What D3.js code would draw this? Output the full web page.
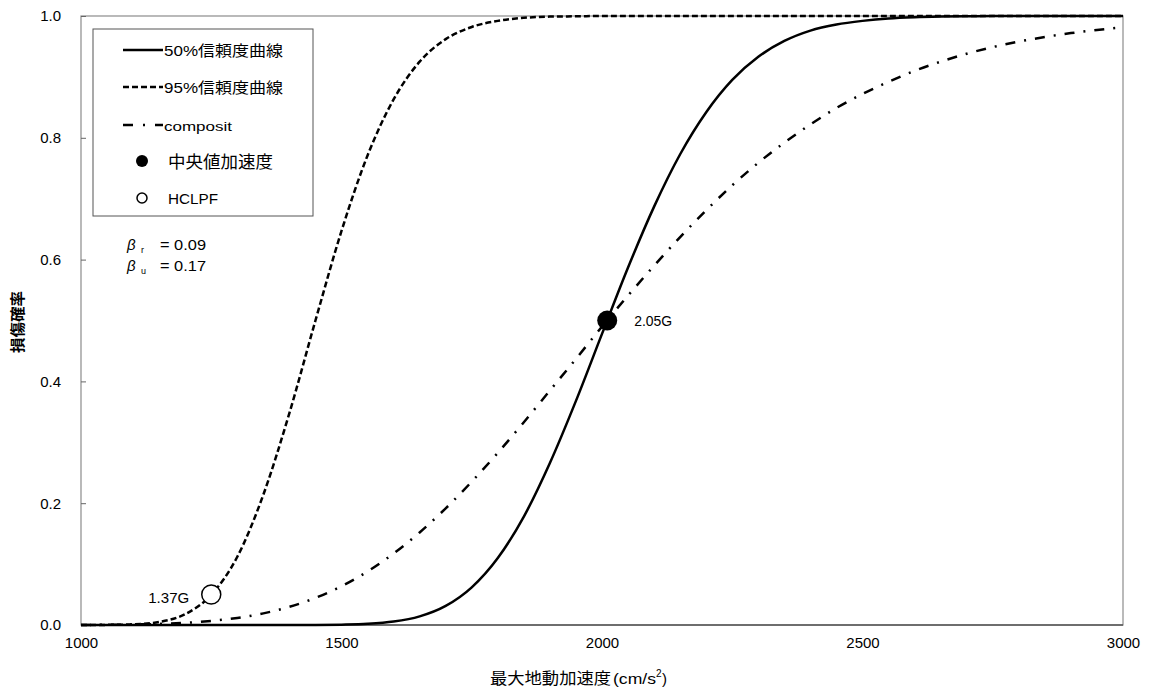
<!DOCTYPE html>
<html>
<head>
<meta charset="utf-8">
<script src="https://cdn.jsdelivr.net/npm/d3@7"></script>
<style>
  body { margin: 0; background: #fff; }
  text { font-family: "Liberation Sans", "Noto Sans CJK JP", sans-serif; fill: #000; }
</style>
</head>
<body>
<div class="chart-div"></div>
<script>
// acceleration grid (cm/s2) and read-off probabilities
const accel = [1000,1050,1100,1150,1200,1250,1300,1350,1400,1450,1500,1550,1600,1650,1700,1750,1800,1850,1900,1950,
               2000,2050,2100,2150,2200,2250,2300,2350,2400,2450,2500,2550,2600,2650,2700,2750,2800,2850,2900,2950,3000];
const p50 = [0,0,0,0,0,0,0,0,0.00003,0.0001,0.0006,0.0019,0.0056,0.0142,0.0314,0.0619,0.110,0.178,0.266,0.368,
             0.478,0.587,0.687,0.773,0.842,0.895,0.933,0.959,0.976,0.986,0.992,0.996,0.998,0.999,0.9995,1,1,1,1,1,1];
const p95 = [0,0.0002,0.0011,0.005,0.0178,0.0496,0.112,0.214,0.348,0.5,0.647,0.771,0.863,0.925,0.962,0.982,0.992,0.997,0.999,0.9995,
             1,1,1,1,1,1,1,1,1,1,1,1,1,1,1,1,1,1,1,1,1];
const pComp = [0.00014,0.00036,0.00085,0.0018,0.0036,0.0067,0.0116,0.0191,0.0298,0.0445,0.0637,0.0879,0.1174,0.152,0.1915,0.2354,0.2826,0.333,0.385,0.437,
               0.490,0.541,0.590,0.637,0.681,0.722,0.759,0.792,0.822,0.849,0.872,0.892,0.910,0.925,0.938,0.949,0.958,0.9655,0.9719,0.9771,0.9815];

const medianPt = {a: 2010, p: 0.5, label: "2.05G"};
const hclpfPt = {a: 1250, p: 0.05, label: "1.37G"};

const xTicks = [1000, 1500, 2000, 2500, 3000];
const yTicks = [0, 0.2, 0.4, 0.6, 0.8, 1.0];

const legendItems = ["50%信頼度曲線", "95%信頼度曲線", "composit", "中央値加速度", "HCLPF"];

var width = 1151, height = 691;

const svg = d3.select(".chart-div").append("svg")
    .attr("width", width)
    .attr("height", height);

svg.append("rect").attr("width", width).attr("height", height).attr("fill", "#fff");

const x = d3.scaleLinear().domain([1000, 3000]).range([81, 1123]);
const y = d3.scaleLinear().domain([0, 1]).range([625, 16]);

// frame
svg.append("rect")
    .attr("x", x(1000)).attr("y", y(1))
    .attr("width", x(3000) - x(1000)).attr("height", y(0) - y(1))
    .attr("fill", "none").attr("stroke", "#8c8c8c").attr("stroke-width", 1.2);
svg.append("line")
    .attr("x1", x(1000)).attr("x2", x(3000)).attr("y1", y(0)).attr("y2", y(0))
    .attr("stroke", "#555").attr("stroke-width", 1.5);

// y axis ticks (inside) + labels
const yAxis = d3.axisLeft(y).tickValues(yTicks).tickSize(-5).tickPadding(20)
    .tickFormat(d3.format(".1f"));
const gy = svg.append("g").attr("transform", `translate(${x(1000)},0)`).call(yAxis);
gy.select(".domain").remove();
gy.selectAll(".tick line").attr("stroke", "#666");
gy.selectAll(".tick text").style("font-size", "15px").style("font-family", "Liberation Sans, sans-serif");

const xAxis = d3.axisBottom(x).tickValues(xTicks).tickSize(0).tickPadding(12)
    .tickFormat(d3.format("d"));
const gx = svg.append("g").attr("transform", `translate(0,${y(0)})`).call(xAxis);
gx.select(".domain").remove();
gx.selectAll(".tick text").style("font-size", "15px").style("font-family", "Liberation Sans, sans-serif");

// axis titles
svg.append("text")
    .attr("x", 490).attr("y", 684)
    .attr("textLength", 121).attr("lengthAdjust", "spacingAndGlyphs")
    .style("font-size", "16px").style("font-family", "Noto Sans CJK JP, sans-serif")
    .text("最大地動加速度");
svg.append("text")
    .attr("x", 613).attr("y", 684)
    .attr("textLength", 43).attr("lengthAdjust", "spacingAndGlyphs")
    .style("font-size", "15px")
    .text("(cm/s");
svg.append("text")
    .attr("x", 656).attr("y", 677)
    .style("font-size", "10px")
    .text("2");
svg.append("text")
    .attr("x", 662).attr("y", 684)
    .style("font-size", "15px")
    .text(")");

svg.append("text")
    .attr("transform", "translate(23,322) rotate(-90)")
    .attr("text-anchor", "middle")
    .attr("textLength", 62).attr("lengthAdjust", "spacingAndGlyphs")
    .style("font-size", "15px").style("font-weight", "bold")
    .style("font-family", "Noto Sans CJK JP, sans-serif")
    .text("損傷確率");

// curves
const line = d3.line()
    .x((d, i) => x(accel[i]))
    .y(d => y(d))
    .curve(d3.curveMonotoneX);

const styles = [
    {data: p95, dash: "6,3"},
    {data: pComp, dash: "10,9,2,9"},
    {data: p50, dash: null}
];
styles.forEach(s => {
    svg.append("path")
        .attr("d", line(s.data))
        .attr("fill", "none")
        .attr("stroke", "#000")
        .attr("stroke-width", 2.5)
        .attr("stroke-dasharray", s.dash);
});

// points
svg.append("circle")
    .attr("cx", x(medianPt.a)).attr("cy", y(medianPt.p)).attr("r", 10)
    .attr("fill", "#000");
svg.append("text")
    .attr("x", x(medianPt.a) + 27).attr("y", y(medianPt.p) + 5)
    .attr("textLength", 38).attr("lengthAdjust", "spacingAndGlyphs")
    .style("font-size", "15px").text(medianPt.label);

svg.append("circle")
    .attr("cx", x(hclpfPt.a)).attr("cy", y(hclpfPt.p)).attr("r", 9.5)
    .attr("fill", "#fff").attr("stroke", "#000").attr("stroke-width", 1.5);
svg.append("text")
    .attr("x", x(hclpfPt.a) - 63).attr("y", y(hclpfPt.p) + 8)
    .attr("textLength", 41).attr("lengthAdjust", "spacingAndGlyphs")
    .style("font-size", "15px").text(hclpfPt.label);

// legend
const lg = svg.append("g");
lg.append("rect")
    .attr("x", 93).attr("y", 29).attr("width", 220).attr("height", 187)
    .attr("fill", "#fff").attr("stroke", "#555").attr("stroke-width", 1);

const rowY = [50, 87, 125, 161, 198];
const lineDash = [null, "6,3", "10,10,2,10"];
const textLen = [119, 119, 68];
lineDash.forEach((dash, i) => {
    lg.append("line")
        .attr("x1", 123).attr("x2", 163).attr("y1", rowY[i]).attr("y2", rowY[i])
        .attr("stroke", "#000").attr("stroke-width", 2.5)
        .attr("stroke-dasharray", dash);
    lg.append("text")
        .attr("x", 164).attr("y", rowY[i] + 6)
        .attr("textLength", textLen[i]).attr("lengthAdjust", "spacingAndGlyphs")
        .style("font-size", i === 2 ? "13px" : "15px")
        .text(legendItems[i]);
});
lg.append("circle").attr("cx", 142).attr("cy", rowY[3]).attr("r", 6).attr("fill", "#000");
lg.append("text").attr("x", 168).attr("y", rowY[3] + 7)
    .attr("textLength", 105).attr("lengthAdjust", "spacingAndGlyphs")
    .style("font-size", "17px").text(legendItems[3]);
lg.append("circle").attr("cx", 142).attr("cy", rowY[4]).attr("r", 5)
    .attr("fill", "#fff").attr("stroke", "#000").attr("stroke-width", 1.5);
lg.append("text").attr("x", 168).attr("y", rowY[4] + 6)
    .attr("textLength", 50).attr("lengthAdjust", "spacingAndGlyphs")
    .style("font-size", "15px").text(legendItems[4]);

// beta annotation
const betas = [["r", "0.09", 250], ["u", "0.17", 271]];
betas.forEach(b => {
    svg.append("text").attr("x", 127).attr("y", b[2])
        .style("font-size", "15px").style("font-style", "italic").text("β");
    svg.append("text").attr("x", 141).attr("y", b[2] + 3)
        .style("font-size", "9px").text(b[0]);
    svg.append("text").attr("x", 160).attr("y", b[2])
        .attr("textLength", 46).attr("lengthAdjust", "spacingAndGlyphs")
        .style("font-size", "15px").text("= " + b[1]);
});
</script>
</body>
</html>
